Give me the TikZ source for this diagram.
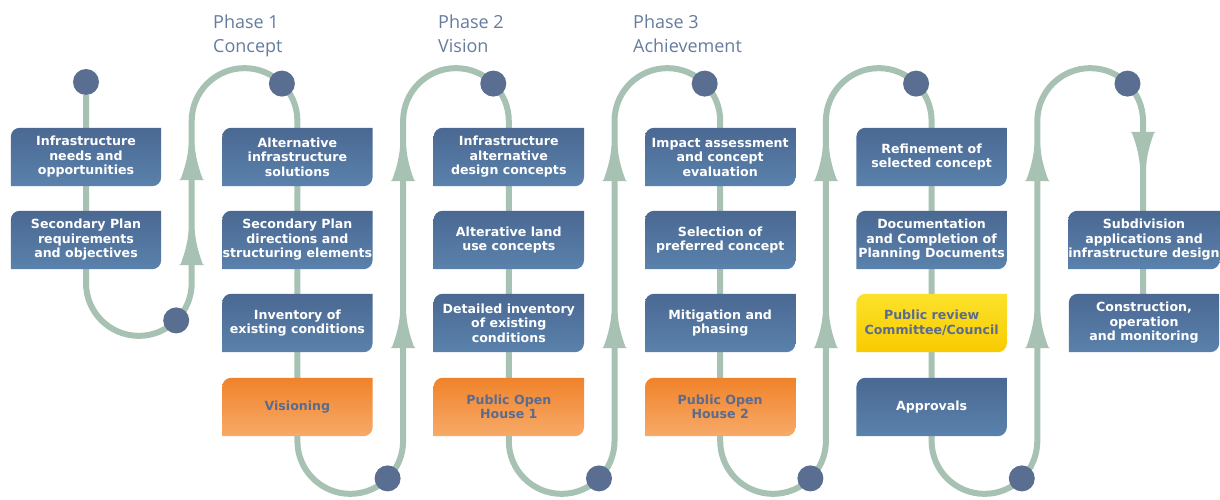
\documentclass[tikz,border=0pt]{standalone}
\usepackage{fontspec}
\newfontfamily\boxfont{DejaVu Sans}
\newfontfamily\phasefont{Open Sans}

\definecolor{flowgreen}{HTML}{A7C1B2}
\definecolor{dotblue}{HTML}{5A6E91}
\definecolor{boxtop}{HTML}{4A6892}
\definecolor{boxbot}{HTML}{5A82AC}
\definecolor{orangetop}{HTML}{F0832A}
\definecolor{orangebot}{HTML}{F7AA69}
\definecolor{yellowtop}{HTML}{FBE22A}
\definecolor{yellowbot}{HTML}{F9CB00}
\definecolor{slatetext}{HTML}{5B6B8E}
\definecolor{phasetext}{HTML}{667C9C}

\pgfdeclarelayer{flowlayer}
\pgfdeclarelayer{boxlayer}
\pgfsetlayers{flowlayer,boxlayer,main}

\tikzset{
  stage/.style={minimum width=150pt, minimum height=58pt, inner sep=0pt,
    align=center, text=white, font=\boxfont\bfseries\fontsize{12.6}{14.5}\selectfont},
  event/.style={stage, text=slatetext},
  flow/.style={draw=flowgreen, line width=6pt},
  dot/.style={circle, fill=dotblue, minimum size=26pt, inner sep=0pt},
  phase/.style={anchor=north west, align=left, inner sep=0pt, text=phasetext,
    font=\phasefont\fontsize{18}{24}\selectfont},
  flowhead/.pic={
    \fill [flowgreen] (-12.5,-1) -- (-11,0) .. controls (-8,8) and (-4,20) .. (-3,34)
      -- (3,34) .. controls (4,20) and (8,8) .. (11,0) -- (12.5,-1) -- cycle;
  }
}

\begin{document}
\begin{tikzpicture}[
  x=1pt, y=1pt
]
\useasboundingbox (0,0) rectangle (1220,-500);

\node [phase] (phase1) at (213,-14.5) {Phase 1\\Concept};
\node [phase] (phase2) at (438,-14.5) {Phase 2\\Vision};
\node [phase] (phase3) at (633,-14.5) {Phase 3\\Achievement};

% column 1
\node [stage] (needs) at (86,-157) {Infrastructure\\needs and\\opportunities};
\node [stage] (planreq) at (86,-240) {Secondary Plan\\requirements\\and objectives};

% column 2
\node [stage] (altinfra) at (297.4,-157) {Alternative\\infrastructure\\solutions};
\node [stage] (plandir) at (297.4,-240) {Secondary Plan\\directions and\\structuring elements};
\node [stage] (inventory) at (297.4,-323) {Inventory of\\existing conditions};
\node [event] (visioning) at (297.4,-407) {Visioning};

% column 3
\node [stage] (designalt) at (508.8,-157) {Infrastructure\\alternative\\design concepts};
\node [stage] (landuse) at (508.8,-240) {Alterative land\\use concepts};
\node [stage] (detinv) at (508.8,-323) {Detailed inventory\\of existing\\conditions};
\node [event] (openhouse1) at (508.8,-407) {Public Open\\House 1};

% column 4
\node [stage] (impact) at (720.2,-157) {Impact assessment\\and concept\\evaluation};
\node [stage] (selection) at (720.2,-240) {Selection of\\preferred concept};
\node [stage] (mitigation) at (720.2,-323) {Mitigation and\\phasing};
\node [event] (openhouse2) at (720.2,-407) {Public Open\\House 2};

% column 5
\node [stage] (refinement) at (931.6,-157) {Refinement of\\selected concept};
\node [stage] (documents) at (931.6,-240) {Documentation\\and Completion of\\Planning Documents};
\node [event] (review) at (931.6,-323) {Public review\\Committee/Council};
\node [stage] (approvals) at (931.6,-407) {Approvals};

% column 6
\node [stage] (subdivision) at (1144,-240) {Subdivision\\applications and\\infrastructure design};
\node [stage] (construction) at (1144,-323) {Construction,\\operation\\and monitoring};

% box backgrounds, rounded at top left and bottom right only
\begin{pgfonlayer}{boxlayer}
\foreach \n in {needs,planreq,altinfra,plandir,inventory,designalt,landuse,detinv,
  impact,selection,mitigation,refinement,documents,approvals,subdivision,construction}
  \shade [top color=boxtop, bottom color=boxbot] (\n.south west)
    -- ([yshift=-9pt]\n.north west) arc [start angle=180, end angle=90, radius=9pt]
    -- (\n.north east) -- ([yshift=9pt]\n.south east)
    arc [start angle=0, end angle=-90, radius=9pt] -- cycle;
\foreach \n in {visioning,openhouse1,openhouse2}
  \shade [top color=orangetop, bottom color=orangebot] (\n.south west)
    -- ([yshift=-9pt]\n.north west) arc [start angle=180, end angle=90, radius=9pt]
    -- (\n.north east) -- ([yshift=9pt]\n.south east)
    arc [start angle=0, end angle=-90, radius=9pt] -- cycle;
\shade [top color=yellowtop, bottom color=yellowbot] (review.south west)
  -- ([yshift=-9pt]review.north west) arc [start angle=180, end angle=90, radius=9pt]
  -- (review.north east) -- ([yshift=9pt]review.south east)
  arc [start angle=0, end angle=-90, radius=9pt] -- cycle;
\end{pgfonlayer}

% dots on the flow line
\node [dot] (startdot) at (86,-82) {};
\node [dot] (low1) at (176.2,-320.4) {};
\node [dot] (top2) at (281.9,-83.6) {};
\node [dot] (low2) at (387.6,-478.4) {};
\node [dot] (top3) at (493.3,-83.6) {};
\node [dot] (low3) at (599.0,-478.4) {};
\node [dot] (top4) at (704.7,-83.6) {};
\node [dot] (low4) at (810.4,-478.4) {};
\node [dot] (top5) at (916.1,-83.6) {};
\node [dot] (low5) at (1021.8,-478.4) {};
\node [dot] (top6) at (1127.5,-83.6) {};

% turning points of the flow line
\coordinate (c1b) at (86,-283);
\coordinate (u1t) at (191.7,-121);
\coordinate (c2b) at (297.4,-441);
\coordinate (u2t) at (403.1,-121);
\coordinate (c3b) at (508.8,-441);
\coordinate (u3t) at (614.5,-121);
\coordinate (c4b) at (720.2,-441);
\coordinate (u4t) at (825.9,-121);
\coordinate (c5b) at (931.6,-441);
\coordinate (u5t) at (1037.3,-121);
\coordinate (c6e) at (1143,-330);

\begin{pgfonlayer}{flowlayer}
\draw [flow] (startdot) -- (c1b) arc [start angle=180, end angle=360, radius=52.85]
  -- (u1t) arc [start angle=180, end angle=0, radius=52.85]
  -- (c2b) arc [start angle=180, end angle=360, radius=52.85]
  -- (u2t) arc [start angle=180, end angle=0, radius=52.85]
  -- (c3b) arc [start angle=180, end angle=360, radius=52.85]
  -- (u3t) arc [start angle=180, end angle=0, radius=52.85]
  -- (c4b) arc [start angle=180, end angle=360, radius=52.85]
  -- (u4t) arc [start angle=180, end angle=0, radius=52.85]
  -- (c5b) arc [start angle=180, end angle=360, radius=52.85]
  -- (u5t) arc [start angle=180, end angle=0, radius=52.85]
  -- (c6e);

\pic at (191.7,-179) {flowhead};
\pic at (191.7,-264) {flowhead};
\pic at (403.1,-180) {flowhead};
\pic at (403.1,-347) {flowhead};
\pic at (614.5,-180) {flowhead};
\pic at (614.5,-347) {flowhead};
\pic at (825.9,-180) {flowhead};
\pic at (825.9,-347) {flowhead};
\pic at (1037.3,-180) {flowhead};
\pic at (1037.3,-347) {flowhead};
\pic [rotate=180] at (1143,-133) {flowhead};
\end{pgfonlayer}
\end{tikzpicture}
\end{document}
